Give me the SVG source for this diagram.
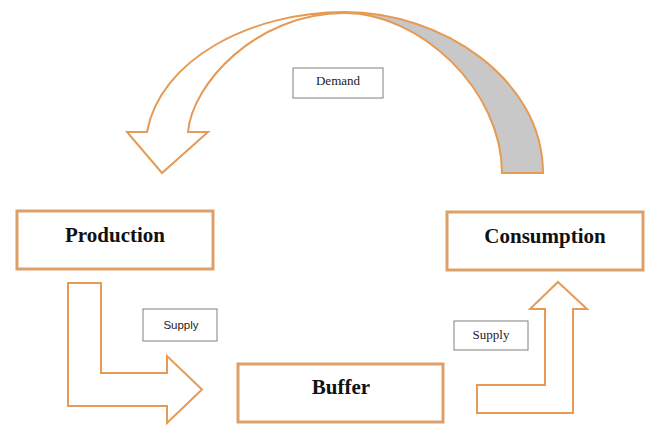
<svg xmlns="http://www.w3.org/2000/svg" width="649" height="425" viewBox="0 0 649 425">
<style>
.box{fill:#fff;stroke:#DDA068;stroke-width:3}
.lbl{fill:#fff;stroke:#808080;stroke-width:1}
.arrow{fill:#fff;stroke:#E59B55;stroke-width:2;stroke-linejoin:miter}
.big{font-family:"Liberation Serif",serif;font-weight:bold;font-size:21px;fill:#111;text-anchor:middle}
.small{font-family:"Liberation Serif",serif;font-size:13px;fill:#222;text-anchor:middle}
.sans{font-family:"Liberation Sans",sans-serif;font-size:11.5px;fill:#222;text-anchor:middle}
</style>
<rect width="649" height="425" fill="#fff"/>
<g id="connectors">
<g id="demand-arrow">
<path class="arrow" style="fill:#C8C8C8" d="M345,12 C440,12 543,78 543,173 L502,173 C502,90 420,13 345,13 Z"/>
<path class="arrow" d="M345,12 C250,12 160,60 147,132 L127,132 L162,173 L208,132 L188,132 C192,85 255,13 345,13 Z"/>
</g>
<path id="supply-arrow-1" class="arrow" d="M68,283 L101,283 L101,373 L167,373 L167,356 L202,389.5 L167,423 L167,406 L68,406 Z"/>
<path id="supply-arrow-2" class="arrow" d="M558,282 L587,309 L573,309 L573,413 L477,413 L477,385 L545,385 L545,309 L530,309 Z"/>
</g>
<g id="production">
<rect class="box" x="17" y="211" width="196" height="58"/>
<text class="big" x="115" y="242">Production</text>
</g>
<g id="consumption">
<rect class="box" x="447" y="212" width="196" height="58"/>
<text class="big" x="545" y="243">Consumption</text>
</g>
<g id="buffer">
<rect class="box" x="238" y="364" width="205" height="58"/>
<text class="big" x="341" y="394">Buffer</text>
</g>
<g id="demand-label">
<rect class="lbl" x="293" y="68" width="90" height="30"/>
<text class="small" x="338" y="85">Demand</text>
</g>
<g id="supply-label-1">
<rect class="lbl" x="143" y="309" width="74" height="32"/>
<text class="sans" x="181" y="329">Supply</text>
</g>
<g id="supply-label-2">
<rect class="lbl" x="454" y="321" width="74" height="29"/>
<text class="small" x="491" y="339">Supply</text>
</g>
</svg>
